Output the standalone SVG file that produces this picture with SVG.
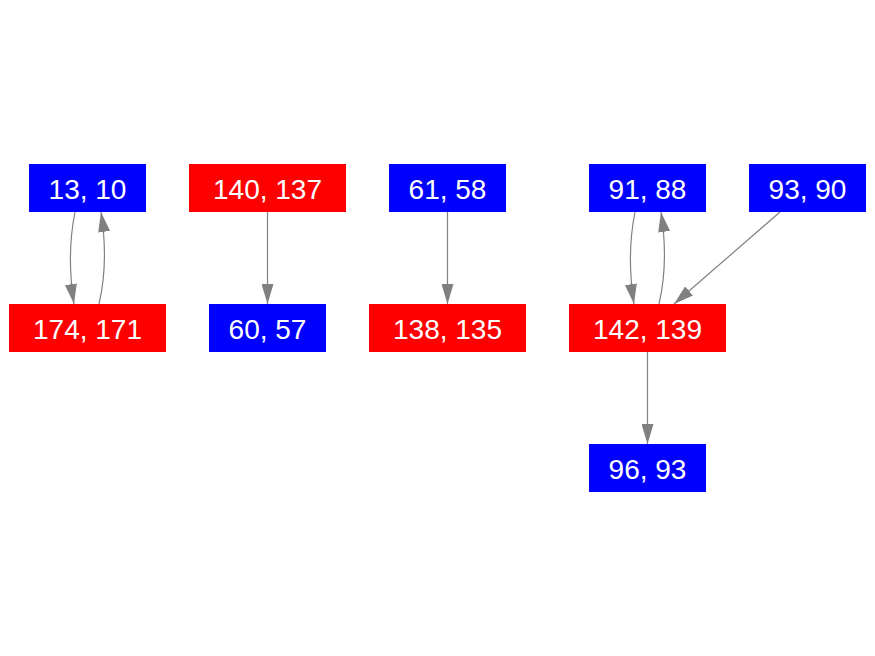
<svg xmlns="http://www.w3.org/2000/svg" width="875" height="656" viewBox="0 0 875 656">
<style>
.b{fill:#0000ff}
.r{fill:#ff0000}
.t{fill:#ffffff;font-family:"Liberation Sans",Arial,sans-serif;font-size:28px;text-anchor:middle}
.e{fill:none;stroke:#808080;stroke-width:1.2}
</style>
<defs>
<marker id="a" markerUnits="userSpaceOnUse" markerWidth="20" markerHeight="12" refX="20" refY="6" orient="auto" viewBox="0 0 20 12">
<path d="M0,0 L20,6 L0,12 Z" fill="#808080"/>
</marker>
</defs>
<rect width="875" height="656" fill="#ffffff"/>
<g id="edges">
<path class="e" d="M75,212 C69,242 69,272 74,304" marker-end="url(#a)"/>
<path class="e" d="M99,304 C106,274 106,244 101,212" marker-end="url(#a)"/>
<path class="e" d="M267.5,212 L267.5,304" marker-end="url(#a)"/>
<path class="e" d="M447.5,212 L447.5,304" marker-end="url(#a)"/>
<path class="e" d="M635,212 C629,242 629,272 634,304" marker-end="url(#a)"/>
<path class="e" d="M659,304 C666,274 666,244 661,212" marker-end="url(#a)"/>
<path class="e" d="M780,212 L674,304" marker-end="url(#a)"/>
<path class="e" d="M647.5,352 L647.5,444" marker-end="url(#a)"/>
</g>
<g id="n1"><rect class="b" x="29" y="164" width="117" height="48"/><text class="t" x="87.5" y="199">13, 10</text></g>
<g id="n2"><rect class="r" x="189" y="164" width="157" height="48"/><text class="t" x="267.5" y="199">140, 137</text></g>
<g id="n3"><rect class="b" x="389" y="164" width="117" height="48"/><text class="t" x="447.5" y="199">61, 58</text></g>
<g id="n4"><rect class="b" x="589" y="164" width="117" height="48"/><text class="t" x="647.5" y="199">91, 88</text></g>
<g id="n5"><rect class="b" x="749" y="164" width="117" height="48"/><text class="t" x="807.5" y="199">93, 90</text></g>
<g id="n6"><rect class="r" x="9" y="304" width="157" height="48"/><text class="t" x="87.5" y="339">174, 171</text></g>
<g id="n7"><rect class="b" x="209" y="304" width="117" height="48"/><text class="t" x="267.5" y="339">60, 57</text></g>
<g id="n8"><rect class="r" x="369" y="304" width="157" height="48"/><text class="t" x="447.5" y="339">138, 135</text></g>
<g id="n9"><rect class="r" x="569" y="304" width="157" height="48"/><text class="t" x="647.5" y="339">142, 139</text></g>
<g id="n10"><rect class="b" x="589" y="444" width="117" height="48"/><text class="t" x="647.5" y="479">96, 93</text></g>
</svg>
